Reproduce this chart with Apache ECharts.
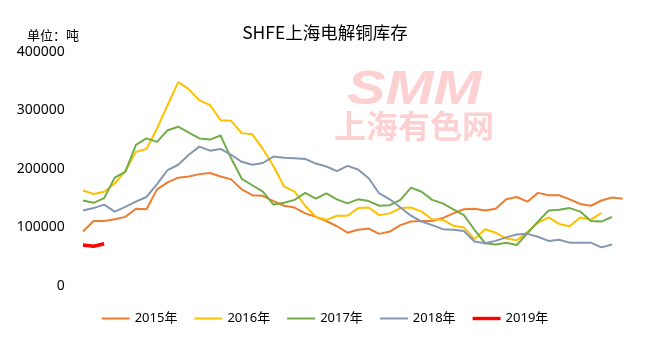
<!DOCTYPE html>
<html>
<head>
<meta charset="utf-8">
<script src="https://cdn.jsdelivr.net/npm/echarts@6/dist/echarts.min.js"></script>
<style>
html,body{margin:0;padding:0;background:#fff;}
#chart{width:650px;height:340px;}
</style>
</head>
<body>
<div id="chart"></div>
<script>
// week categories (labels hidden in the reference)
var weeks = ['W1','W2','W3','W4','W5','W6','W7','W8','W9','W10','W11','W12','W13','W14','W15','W16','W17','W18','W19','W20','W21','W22','W23','W24','W25','W26','W27','W28','W29','W30','W31','W32','W33','W34','W35','W36','W37','W38','W39','W40','W41','W42','W43','W44','W45','W46','W47','W48','W49','W50','W51','W52'];
var seriesNames = ['2015年','2016年','2017年','2018年','2019年'];
var yTicks = [0, 100000, 200000, 300000, 400000];

var stock2015 = [93000,111000,111000,114000,118000,132000,131000,165000,177000,185000,187000,191000,193000,187000,182000,165000,155000,154000,145000,137000,134000,124000,118000,111000,102000,91000,96000,98000,89000,93000,104000,110000,111000,111000,116000,124000,131000,132000,129000,132000,148000,152000,144000,159000,155000,155000,148000,140000,137000,146000,151000,149000];
var stock2016 = [163000,157000,161000,175000,196000,229000,234000,269000,309000,348000,336000,317000,309000,283000,282000,261000,259000,234000,205000,170000,161000,137000,118000,113000,120000,120000,133000,134000,121000,124000,133000,134000,127000,114000,113000,103000,100000,80000,97000,91000,81000,78000,92000,108000,117000,106000,102000,117000,113000,125000];
var stock2017 = [146000,142000,150000,185000,195000,241000,252000,246000,266000,272000,262000,252000,250000,257000,218000,183000,172000,161000,139000,142000,147000,159000,149000,158000,148000,141000,148000,145000,137000,138000,147000,168000,161000,147000,141000,131000,121000,96000,73000,71000,74000,70000,90000,110000,129000,130000,133000,127000,111000,110000,118000];
var stock2018 = [129000,133000,139000,127000,135000,144000,152000,174000,198000,207000,224000,238000,231000,234000,224000,212000,207000,210000,221000,219000,218000,217000,209000,204000,196000,205000,199000,184000,158000,148000,134000,120000,110000,104000,97000,96000,94000,76000,73000,77000,83000,88000,89000,84000,77000,79000,74000,74000,74000,66000,71000];
var stock2019 = [70000,68000,72000];

var colors = ['#ED7D31','#FFC000','#70AD47','#8497B0','#FF0000'];
var dataList = [stock2015, stock2016, stock2017, stock2018, stock2019];

var thinIcon = 'path://M0,0L0,0M0,10L0,10M0,4H28V6H0Z';
var thickIcon = 'path://M0,0L0,0M0,10L0,10M0,3.3H28V6.7H0Z';

var chart = echarts.init(document.getElementById('chart'), null, {renderer:'canvas'});
var series = dataList.map(function(d, i){
  return {
    name: seriesNames[i],
    type: 'line',
    data: d,
    symbol: 'none',
    smooth: false,
    z: i === 4 ? 5 : 3,
    lineStyle: { color: colors[i], width: i === 4 ? 3.5 : 2 },
    itemStyle: { color: colors[i] }
  };
});

chart.setOption({
  animation: false,
  backgroundColor: '#ffffff',
  title: {
    text: 'SHFE上海电解铜库存',
    left: 'center',
    top: 19,
    textStyle: { fontSize: 17.5, fontWeight: 'normal', color: '#000', fontFamily: 'Noto Sans CJK SC, Noto Sans, sans-serif' }
  },
  graphic: [
    { type: 'text', left: 27, top: 29, z: 10,
      style: { text: '单位：吨', fontSize: 13, fill: '#000', fontFamily: 'Noto Sans CJK SC, sans-serif' } },
    { type: 'text', x: 347, y: 67, z: 0, scaleX: 1.2,
      style: { text: 'SMM', fontSize: 48, fontWeight: 900, fontStyle: 'italic', fill: '#fdd0d2', fontFamily: 'Liberation Sans, Arial, sans-serif' } },
    { type: 'text', x: 334, y: 110, z: 0,
      style: { text: '上海有色网', fontSize: 32, fontWeight: 'bold', fill: '#fdd0d2', fontFamily: 'Noto Sans CJK SC, sans-serif' } }
  ],
  legend: {
    data: seriesNames.map(function(n, i){ return { name: n, icon: i === 4 ? thickIcon : thinIcon }; }),
    bottom: 10,
    left: 'center',
    itemWidth: 28,
    itemHeight: 10,
    itemGap: 17,
    textStyle: { fontSize: 13, color: '#000', fontFamily: 'Noto Sans, Noto Sans CJK SC, sans-serif' }
  },
  grid: { left: 77.7, right: 22.1, top: 51.7, bottom: 54, containLabel: false },
  xAxis: {
    type: 'category',
    data: weeks,
    boundaryGap: true,
    axisLine: { show: false },
    axisTick: { show: false },
    axisLabel: { show: false },
    splitLine: { show: false }
  },
  yAxis: {
    type: 'value',
    min: yTicks[0],
    max: yTicks[yTicks.length - 1],
    interval: yTicks[1] - yTicks[0],
    axisLine: { show: false },
    axisTick: { show: false },
    splitLine: { show: false },
    axisLabel: { margin: 13, fontSize: 14, color: '#000', fontFamily: 'Noto Sans, sans-serif',
      formatter: function(v){ return String(v); } }
  },
  series: series
});
</script>
</body>
</html>
